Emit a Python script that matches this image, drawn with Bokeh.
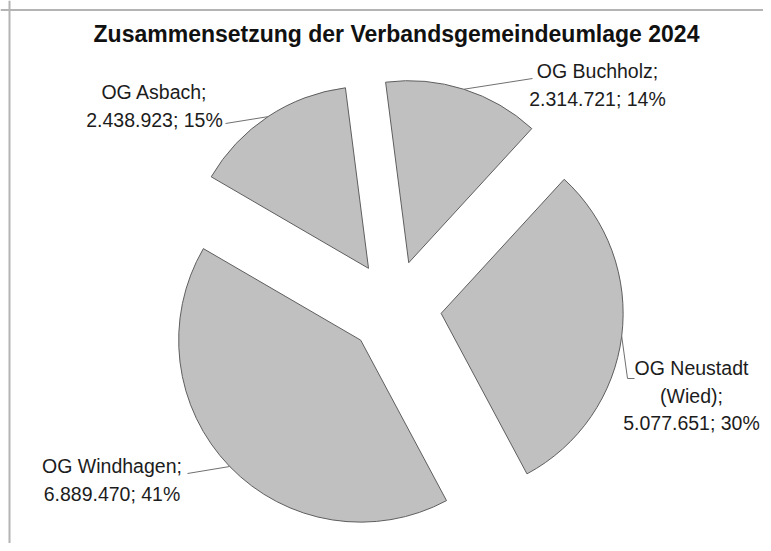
import math
from bokeh.plotting import figure
from bokeh.models import Range1d, Span, ColumnDataSource
from bokeh.embed import file_html
from bokeh.resources import INLINE
from bokeh.core.properties import value

# ---- data ----
title_text = "Zusammensetzung der Verbandsgemeindeumlage 2024"
names = ["OG Buchholz", "OG Neustadt\n(Wied)", "OG Windhagen", "OG Asbach"]
amounts = [2314721, 5077651, 6889470, 2438923]

# ---- layout (picture pixel coordinates) ----
W, H = 763, 543
CX, CY = 394, 307          # pie centre
R = 182                    # radius
EXPLODE = 47               # explosion offset
START = -7.3               # compass degrees of first slice start (clockwise from top)
label_pos = [(597, 84.5), (691, 395), (111.5, 479.5), (154, 105.5)]
leader_tail = [[(532, 78)], [(627, 378), (634, 378)], [(187, 473)], [(225, 123)]]


def fy(py):
    return H - py


p = figure(width=W, height=H, output_backend="svg", toolbar_location=None,
           x_range=Range1d(0, W), y_range=Range1d(0, H),
           x_axis_location=None, y_axis_location=None, min_border=0,
           background_fill_color="white", border_fill_color="white")
p.outline_line_color = None
p.grid.visible = False

total = sum(amounts)
xs, ys, sa, ea = [], [], [], []
lx, ly, texts = [], [], []
lead_x, lead_y = [], []
theta = START
for i, v in enumerate(amounts):
    span = 360.0 * v / total
    t1, t2 = theta, theta + span
    tm = math.radians((t1 + t2) / 2)
    cx = CX + EXPLODE * math.sin(tm)
    cy = fy(CY) + EXPLODE * math.cos(tm)
    xs.append(cx)
    ys.append(cy)
    sa.append(math.radians(90 - t2))
    ea.append(math.radians(90 - t1))
    amt = f"{v:,}".replace(",", ".")
    pct = f"{round(100 * v / total)}%"
    texts.append(f"{names[i]};\n{amt}; {pct}")
    lx.append(label_pos[i][0])
    ly.append(fy(label_pos[i][1]))
    ax = cx + R * math.sin(tm)
    ay = cy + R * math.cos(tm)
    lead_x.append([ax] + [pt[0] for pt in leader_tail[i]])
    lead_y.append([ay] + [fy(pt[1]) for pt in leader_tail[i]])
    theta = t2

src = ColumnDataSource(dict(x=xs, y=ys, sa=sa, ea=ea))
p.wedge(x="x", y="y", radius=R, start_angle="sa", end_angle="ea",
        direction="anticlock", source=src,
        fill_color="#c0c0c0", line_color="#5e5e5e", line_width=1)

p.multi_line(xs=lead_x, ys=lead_y, line_color="#707070", line_width=1)

p.text(x=lx, y=ly, text=texts, text_align="center", text_baseline="middle",
       text_font=value("Liberation Sans"), text_font_size="19.5px",
       text_color="#1c1c1c", text_line_height=1.25)

p.text(x=[396], y=[fy(33)], text=[title_text], text_align="center",
       text_baseline="middle", text_font=value("Liberation Sans"),
       text_font_size="23px", text_font_style="bold", text_color="#111111")

# chart frame (only top and left edges visible in the reference)
p.add_layout(Span(location=fy(9.5), dimension="width", line_color="#b4b4b4", line_width=2))
p.add_layout(Span(location=9, dimension="height", line_color="#b4b4b4", line_width=2))

open("out.html", "w").write(file_html(p, INLINE))
